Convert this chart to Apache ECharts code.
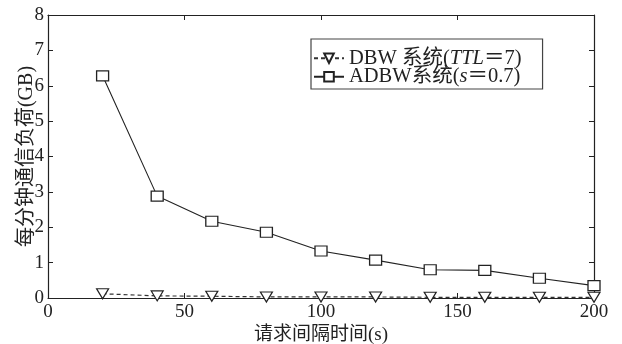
<!DOCTYPE html>
<html>
<head>
<meta charset="utf-8">
<script src="https://cdn.jsdelivr.net/npm/echarts@6/dist/echarts.min.js"></script>
<style>
  html, body { margin: 0; padding: 0; background: #fff; }
  #chart { width: 622px; height: 344px; }
</style>
</head>
<body>
<div id="chart"></div>
<script>
// Request interval (s)
const intervals = [20, 40, 60, 80, 100, 120, 140, 160, 180, 200];
// Communication load per minute (GB)
const dbwLoad  = [0.12, 0.06, 0.05, 0.03, 0.03, 0.03, 0.02, 0.02, 0.02, 0.02];
const adbwLoad = [6.28, 2.88, 2.17, 1.86, 1.33, 1.07, 0.80, 0.78, 0.56, 0.35];
const xTicks = { min: 0, max: 200, step: 50 };
const yTicks = { min: 0, max: 8, step: 1 };

const serif = "'Liberation Serif', 'Noto Sans CJK SC', serif";
const ink = '#222';

const pairs = (xs, ys) => xs.map((x, i) => [x, ys[i]]);

const chart = echarts.init(document.getElementById('chart'), null, { renderer: 'canvas' });

const boxAxis = () => ({
  nameMoveOverlap: false,
  axisLine: { show: true, onZero: false, lineStyle: { color: ink, width: 1.2 } },
  axisTick: { show: true, inside: true, length: 5, lineStyle: { color: ink } },
  splitLine: { show: false },
});

chart.setOption({
  animation: false,
  backgroundColor: '#fff',
  grid: { left: 48, right: 28, top: 15, bottom: 46, containLabel: false, outerBoundsMode: 'none' },
  xAxis: [
    Object.assign({
      type: 'value', position: 'bottom',
      min: xTicks.min, max: xTicks.max, interval: xTicks.step,
      name: '请求间隔时间(s)', nameLocation: 'middle', nameGap: 28,
      nameTextStyle: { fontFamily: serif, fontSize: 19, color: ink },
      axisLabel: { fontFamily: serif, fontSize: 19, color: ink, margin: 5 },
    }, boxAxis()),
    Object.assign({
      type: 'value', position: 'top',
      min: xTicks.min, max: xTicks.max, interval: xTicks.step,
      axisLabel: { show: false },
    }, boxAxis()),
  ],
  yAxis: [
    Object.assign({
      type: 'value', position: 'left',
      min: yTicks.min, max: yTicks.max, interval: yTicks.step,
      name: '每分钟通信负荷(GB)', nameLocation: 'middle', nameGap: 11,
      nameTextStyle: { fontFamily: serif, fontSize: 20, color: ink },
      axisLabel: { fontFamily: serif, fontSize: 19, color: ink, margin: 4 },
    }, boxAxis()),
    Object.assign({
      type: 'value', position: 'right',
      min: yTicks.min, max: yTicks.max, interval: yTicks.step,
      axisLabel: { show: false },
    }, boxAxis()),
  ],
  legend: {
    orient: 'vertical',
    left: 311, top: 39,
    padding: [9, 21, 2, 2],
    itemGap: -2,
    itemWidth: 30, itemHeight: 12,
    borderColor: '#444', borderWidth: 1.2,
    backgroundColor: '#fff',
    data: ['DBW', 'ADBW'],
    formatter: function (name) {
      if (name === 'DBW') return '{t|DBW 系统(}{i|TTL}{t|＝7)}';
      return '{t|ADBW系统(}{i|s}{t|＝0.7)}';
    },
    textStyle: {
      color: ink,
      rich: {
        t: { fontFamily: serif, fontSize: 20.5, color: ink, lineHeight: 20 },
        i: { fontFamily: serif, fontSize: 20.5, fontStyle: 'italic', color: ink, lineHeight: 20 },
      },
    },
  },
  series: [
    {
      name: 'DBW', type: 'line',
      data: pairs(intervals, dbwLoad),
      symbol: 'triangle', symbolRotate: 180, symbolSize: [12, 10],
      lineStyle: { color: '#333', width: 1.2, type: [4, 3] },
      itemStyle: { color: '#fff', borderColor: '#222', borderWidth: 1.2 },
      z: 3,
    },
    {
      name: 'ADBW', type: 'line',
      data: pairs(intervals, adbwLoad),
      symbol: 'rect', symbolSize: [12, 10],
      lineStyle: { color: '#222', width: 1.1 },
      itemStyle: { color: '#fff', borderColor: '#222', borderWidth: 1.2 },
      z: 4,
    },
  ],
});
</script>
</body>
</html>
